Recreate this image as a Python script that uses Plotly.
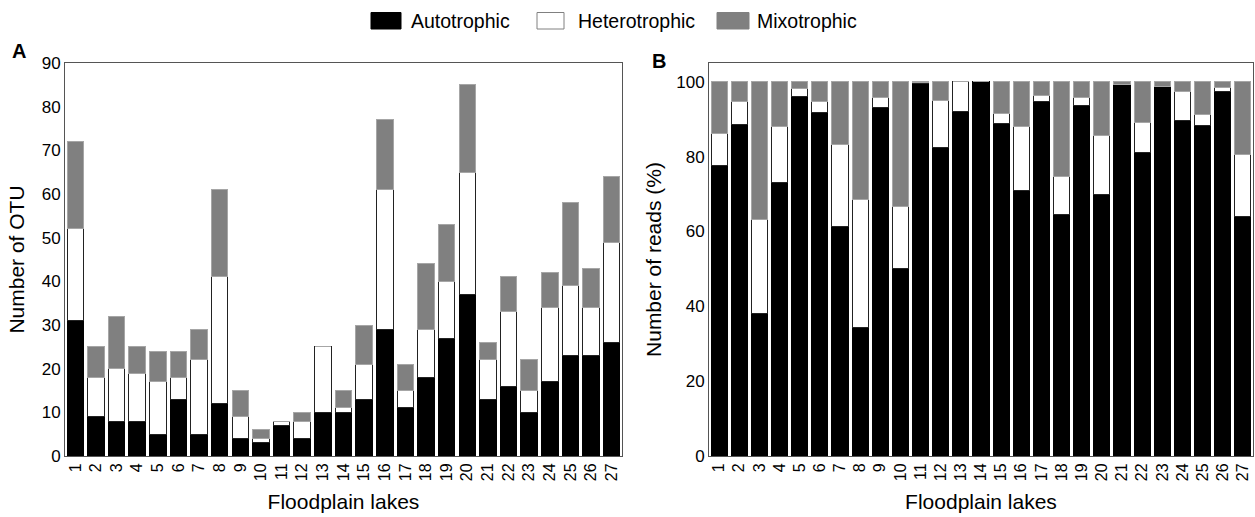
import plotly.graph_objects as go

lakes = [str(i) for i in range(1, 28)]

# Panel A: number of OTU
otu_auto = [31, 9, 8, 8, 5, 13, 5, 12, 4, 3, 7, 4, 10, 10, 13, 29, 11, 18, 27, 37, 13, 16, 10, 17, 23, 23, 26]
otu_hetero = [21, 9, 12, 11, 12, 5, 17, 29, 5, 1, 1, 4, 15, 1, 8, 32, 4, 11, 13, 28, 9, 17, 5, 17, 16, 11, 23]
otu_mixo = [20, 7, 12, 6, 7, 6, 7, 20, 6, 2, 0, 2, 0, 4, 9, 16, 6, 15, 13, 20, 4, 8, 7, 8, 19, 9, 15]

# Panel B: number of reads (%)
reads_auto = [77.7, 88.5, 38.0, 73.2, 96.1, 91.7, 61.2, 34.2, 93.0, 50.1, 99.4, 82.5, 92.0, 100.0,
              88.9, 71.0, 94.8, 64.5, 93.7, 70.0, 99.3, 81.0, 98.7, 89.6, 88.4, 97.3, 64.1]
reads_hetero = [8.4, 6.1, 25.3, 14.9, 2.0, 3.0, 21.9, 34.3, 2.9, 16.6, 0.4, 12.5, 8.0, 0.0,
                2.5, 17.0, 1.6, 10.1, 2.2, 15.6, 0.0, 8.0, 0.0, 7.7, 2.9, 1.1, 16.5]
reads_mixo = [round(100 - a - h, 1) for a, h in zip(reads_auto, reads_hetero)]

series_names = ["Autotrophic", "Heterotrophic", "Mixotrophic"]
fills = ["#000000", "#ffffff", "#808080"]
outlines = ["#000000", "#222222", "#a6a6a6"]

W, H = 1255, 517
font = "Liberation Sans, Arial, sans-serif"

fig = go.Figure()
for name, fill, line, ya, yb in zip(series_names, fills, outlines,
                                    [otu_auto, otu_hetero, otu_mixo],
                                    [reads_auto, reads_hetero, reads_mixo]):
    fig.add_trace(go.Bar(x=lakes, y=ya, name=name, marker=dict(color=fill, line=dict(color=line, width=1)),
                         xaxis="x", yaxis="y", showlegend=False))
    fig.add_trace(go.Bar(x=lakes, y=yb, name=name, marker=dict(color=fill, line=dict(color=line, width=1)),
                         xaxis="x2", yaxis="y2", showlegend=False))

# legend drawn as swatches + text at the top (layout positions in pixels)
legend_swatch_x = [(371, 401), (537, 564), (717, 749)]
legend_text_x = [409, 576, 755]
legend_swatch_border = ["#000000", "#808080", "#808080"]
shapes = []
annotations = []
for (x0, x1), tx, name, fill, border in zip(legend_swatch_x, legend_text_x, series_names, fills,
                                            legend_swatch_border):
    shapes.append(dict(type="rect", xref="paper", yref="paper", x0=x0 / W, x1=x1 / W,
                       y0=1 - 29 / H, y1=1 - 12.5 / H, fillcolor=fill,
                       line=dict(color=border, width=1)))
    annotations.append(dict(text=name, x=tx / W, y=1 - 21 / H, xref="paper", yref="paper",
                            showarrow=False, xanchor="left", yanchor="middle",
                            font=dict(size=19.5, family=font, color="#000000")))

annotations += [
    dict(text="<b>A</b>", x=10 / W, y=1 - 51 / H, xref="paper", yref="paper", showarrow=False,
         font=dict(size=20, family=font), xanchor="left", yanchor="middle"),
    dict(text="<b>B</b>", x=650 / W, y=1 - 61 / H, xref="paper", yref="paper", showarrow=False,
         font=dict(size=20, family=font), xanchor="left", yanchor="middle"),
]

axis_common = dict(showline=True, linecolor="#555555", linewidth=1, mirror=True, showgrid=False,
                   zeroline=False, ticks="", automargin=False)
xcommon = dict(type="category", tickangle=-90, tickfont=dict(size=16),
               title=dict(text="Floodplain lakes", font=dict(size=21), standoff=14), **axis_common)

fig.update_layout(
    template="none",
    width=W, height=H,
    margin=dict(l=0, r=0, t=0, b=0),
    paper_bgcolor="white", plot_bgcolor="white",
    barmode="stack", bargap=0.2,
    font=dict(family=font, color="#000000", size=17),
    showlegend=False,
    xaxis=dict(domain=[65 / W, 622 / W], anchor="y", **xcommon),
    yaxis=dict(domain=[1 - 456 / H, 1 - 63 / H], anchor="x", range=[0, 90], dtick=10,
               tickfont=dict(size=17),
               title=dict(text="Number of OTU", font=dict(size=21), standoff=11), **axis_common),
    xaxis2=dict(domain=[709 / W, 1253 / W], anchor="y2", **xcommon),
    yaxis2=dict(domain=[1 - 456 / H, 1 - 63 / H], anchor="x2", range=[0, 105],
                tickvals=[0, 20, 40, 60, 80, 100], tickfont=dict(size=17),
                title=dict(text="Number of reads (%)", font=dict(size=21), standoff=8), **axis_common),
    shapes=shapes,
    annotations=annotations,
)

fig.write_html("out.html")
